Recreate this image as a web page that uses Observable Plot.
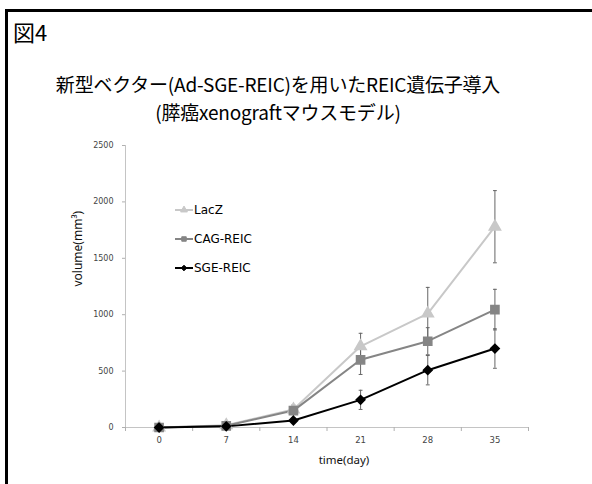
<!DOCTYPE html>
<html>
<head>
<meta charset="utf-8">
<script src="https://cdn.jsdelivr.net/npm/d3@7"></script>
<script src="https://cdn.jsdelivr.net/npm/@observablehq/plot@0.6"></script>
<style>
  html, body { margin: 0; padding: 0; background: #fff; }
  #wrap { position: relative; width: 592px; height: 484px; overflow: hidden; background: #fff; }
  #frame { position: absolute; left: 5px; top: 9px; width: 620px; height: 520px; border: 3px solid #000; box-sizing: border-box; }
  #fig { position: absolute; left: 13px; top: 17px; font-family: "Noto Sans CJK JP", sans-serif; font-size: 22px; line-height: 28px; color: #000; }
  #title { position: absolute; left: 0; top: 70px; width: 556px; text-align: center; font-family: "Noto Sans CJK JP", sans-serif; font-size: 19px; line-height: 28px; color: #000; letter-spacing: -0.2px; }
  #plot { position: absolute; left: 0; top: 0; }
  #legend { position: absolute; left: 0; top: 0; }
</style>
</head>
<body>
<div id="wrap">
  <div id="plot"></div>
  <div id="frame"></div>
  <div id="fig">図4</div>
  <div id="title">新型ベクター(Ad-SGE-REIC)を用いたREIC遺伝子導入<br>(膵癌xenograftマウスモデル)</div>
  <div id="legend"></div>
</div>
<script>
const days = [0, 7, 14, 21, 28, 35];
const seriesNames = ["LacZ", "CAG-REIC", "SGE-REIC"];
const laczValues = [0, 20, 160, 720, 1010, 1780];
const laczErrors = [5, 15, 40, 115, 232, 320];
const cagValues = [0, 15, 150, 600, 765, 1045];
const cagErrors = [5, 10, 35, 130, 120, 180];
const sgeValues = [0, 10, 62, 245, 508, 700];
const sgeErrors = [3, 5, 20, 85, 130, 175];
const yTicks = [0, 500, 1000, 1500, 2000, 2500];
const xTicks = [0, 7, 14, 21, 28, 35];

const colors = {"LacZ": "#c8c8c8", "CAG-REIC": "#858585", "SGE-REIC": "#000000"};
const symbols = {"LacZ": "triangle", "CAG-REIC": "square", "SGE-REIC": "diamond2"};
const radii = {"LacZ": 4.2, "CAG-REIC": 4.6, "SGE-REIC": 3.9};

function build(name, vals, errs) {
  return days.map((d, i) => ({series: name, day: d, value: vals[i], err: errs[i]}));
}
const lacz = build("LacZ", laczValues, laczErrors);
const cag = build("CAG-REIC", cagValues, cagErrors);
const sge = build("SGE-REIC", sgeValues, sgeErrors);
const all = [...lacz, ...cag, ...sge];

// category boundaries between days (Excel-style tick marks)
const boundaries = [-3.5, ...days.map(d => d + 3.5)];

const marks = [
  Plot.ruleY([0], {stroke: "#c4c4c4"}),
  Plot.ruleX([-3.5], {y1: 0, y2: 2500, stroke: "#c4c4c4"}),
  Plot.axisY({ticks: yTicks, tickSize: 3, tickPadding: 9, tickFormat: d => String(d), stroke: "#b0b0b0", fill: "#444", fontSize: 8, label: null}),
  Plot.axisX({ticks: boundaries, tickSize: 4, tickFormat: () => "", stroke: "#b0b0b0", label: null}),
  Plot.axisX({ticks: xTicks, tickSize: 0, tickPadding: 9, tickFormat: d => String(d), fill: "#444", fontSize: 8.5, label: null}),
];
for (const s of [lacz, cag, sge]) {
  const name = s[0].series;
  marks.push(Plot.line(s, {x: "day", y: "value", stroke: colors[name], strokeWidth: 2}));
}
// error bars
marks.push(Plot.ruleX(all, {x: "day", y1: d => d.value - d.err, y2: d => d.value + d.err, stroke: "#666", strokeWidth: 1}));
marks.push(Plot.link(all, {x1: d => d.day - 0.2, x2: d => d.day + 0.2, y1: d => d.value + d.err, y2: d => d.value + d.err, stroke: "#666", strokeWidth: 1}));
marks.push(Plot.link(all, {x1: d => d.day - 0.2, x2: d => d.day + 0.2, y1: d => d.value - d.err, y2: d => d.value - d.err, stroke: "#666", strokeWidth: 1}));
for (const s of [lacz, cag, sge]) {
  const name = s[0].series;
  marks.push(Plot.dot(s, {x: "day", y: "value", symbol: symbols[name], r: radii[name], fill: colors[name], stroke: colors[name]}));
}
marks.push(Plot.text(["volume(mm³)"], {frameAnchor: "left", dx: -47, rotate: -90, fontSize: 12, fill: "#111", fontFamily: "Noto Sans"}));
marks.push(Plot.text(["time(day)"], {frameAnchor: "bottom", dx: 17, dy: 36, fontSize: 11.5, fill: "#111", fontFamily: "Noto Sans"}));

const chart = Plot.plot({
  width: 592,
  height: 484,
  marginLeft: 125,
  marginRight: 64,
  marginTop: 145,
  marginBottom: 57,
  x: {domain: [-3.5, 38.5]},
  y: {domain: [0, 2500]},
  style: {background: "transparent", fontFamily: "DejaVu Sans, sans-serif"},
  marks
});
document.getElementById("plot").appendChild(chart);

// legend
const leg = d3.select("#legend").append("svg").attr("width", 592).attr("height", 484);
const legY = [210, 239, 268];
seriesNames.forEach((name, i) => {
  const g = leg.append("g").attr("transform", `translate(175,${legY[i]})`);
  g.append("line").attr("x1", 0).attr("x2", 18).attr("y1", 0).attr("y2", 0).attr("stroke", colors[name]).attr("stroke-width", 2);
  const sym = {triangle: d3.symbolTriangle, square: d3.symbolSquare, diamond2: d3.symbolDiamond2}[symbols[name]];
  g.append("path").attr("d", d3.symbol(sym, 20)()).attr("transform", "translate(9,0)").attr("fill", colors[name]).attr("stroke", colors[name]);
  g.append("text").attr("x", 19).attr("y", 0).attr("dy", "0.36em").attr("font-family", "DejaVu Sans, sans-serif").attr("font-size", 12).attr("fill", "#000").text(name);
});
</script>
</body>
</html>
